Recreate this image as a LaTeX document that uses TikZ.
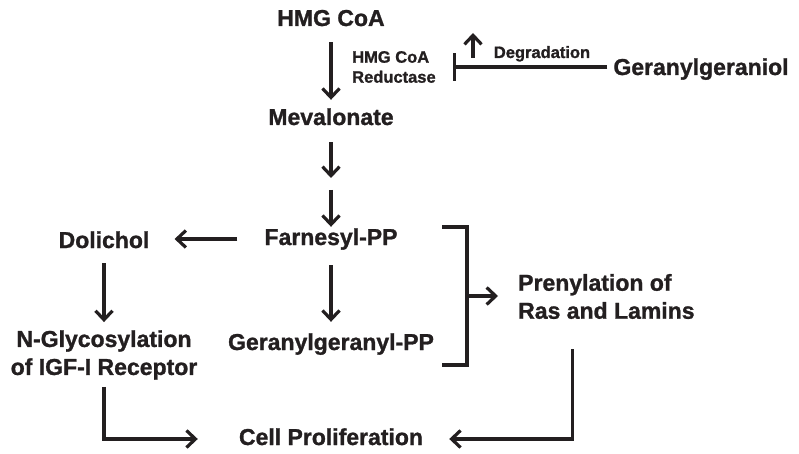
\documentclass[tikz,border=0pt]{standalone}
\usepackage{fontspec}
\setmainfont{Liberation Sans}[BoldFeatures={FakeBold=1.2}]
\usetikzlibrary{arrows.meta}
\definecolor{ink}{RGB}{35,31,32}
\begin{document}
\begin{tikzpicture}[x=1pt,y=-1pt,
  big/.style={font=\fontsize{23}{28}\selectfont\bfseries, text=ink, inner sep=0pt},
  one/.style={big, text height=17pt, text depth=5pt, anchor=base},
  small/.style={font=\fontsize{16.5}{20}\selectfont\bfseries, text=ink, inner sep=0pt},
  arr/.style={draw=ink, line width=3.2pt, -{Straight Barb[length=9pt,width=17pt]}},
  ln/.style={draw=ink, line width=3.2pt},
  inh/.style={draw=ink, line width=3.2pt, -{Bar[width=28pt]}}]
\useasboundingbox (0,0) rectangle (799,454);

% nodes
\node[one] (hmg) at (331,26) {HMG CoA};
\node[one] (mev) at (331,125) {Mevalonate};
\coordinate (m1) at (331,184);
\node[one] (far) at (331,245) {Farnesyl-PP};
\node[one] (ggpp) at (331,350) {Geranylgeranyl-PP};
\node[one] (cell) at (331,445) {Cell Proliferation};
\node[one] (dol) at (104,248) {Dolichol};
\node[big, align=center] (nglyc) at (104,355) {N-Glycosylation\\of IGF-I Receptor};
\node[big, align=left, anchor=west] (prenyl) at (518,296.5) {Prenylation of\\Ras and Lamins};
\node[one] (geraniol) at (701,75) {Geranylgeraniol};
\node[small, align=left, anchor=west] (red) at (352,67) {HMG CoA\\Reductase};
\node[small, anchor=base] (deg) at (542,58) {Degradation};
\coordinate (bar) at (453,67);
\coordinate (up) at (473,58);
\coordinate (brk) at (467,296);

% connectors
\draw[arr, shorten <=11pt, shorten >=8pt] (hmg.south) -- (mev.north);
\draw[arr, shorten <=12pt, shorten >=6pt] (mev.south) -- (m1);
\draw[arr, shorten <=6pt, shorten >=1pt] (m1) -- (far.north);
\draw[arr, shorten <=15pt, shorten >=11pt] (far.south) -- (ggpp.north);
\draw[arr, shorten <=27pt, shorten >=25pt] (far.west) -- (far.west -| dol.east);
\draw[arr, shorten <=10pt, shorten >=8pt] (dol.south) -- (nglyc.north);
\draw[arr, shorten <=7pt, shorten >=41pt] (nglyc.south) |- (cell.west);
\draw[arr, shorten >=26pt] ([shift={(-34,30)}]prenyl.south) |- (cell.east);
\draw[ln] ([shift={(-25,-69)}]brk) -- ([shift={(0,-69)}]brk) -- ([shift={(0,69)}]brk) -- ([shift={(-25,69)}]brk);
\draw[arr, shorten >=20pt] (brk) -- (brk -| prenyl.west);
\draw[inh, shorten <=6pt] (geraniol.west |- bar) -- (bar);
\draw[arr] (up) -- ++(0,-25);
\end{tikzpicture}
\end{document}
